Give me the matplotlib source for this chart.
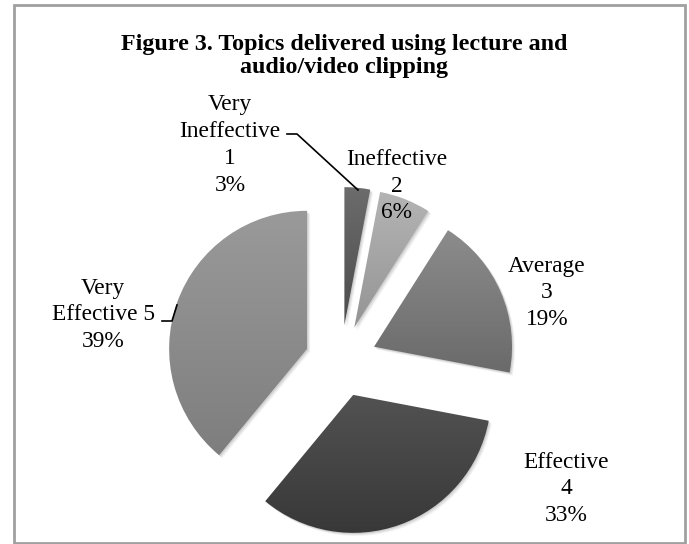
import numpy as np
import matplotlib
matplotlib.use("Agg")
import matplotlib.pyplot as plt
from matplotlib.patches import Rectangle, Wedge

plt.rcParams["font.family"] = ["Liberation Serif", "DejaVu Serif"]

W, H = 689, 544

# data
categories = ["Very Ineffective", "Ineffective", "Average", "Effective", "Very Effective"]
codes = [1, 2, 3, 4, 5]
percents = [3, 6, 19, 33, 39]
label_texts = ["Very\nIneffective\n1\n3%", "Ineffective\n2\n6%", "Average\n3\n19%",
               "Effective\n4\n33%", "Very\nEffective 5\n39%"]

# gradient colours per slice (top, bottom)
grad = [("#6c6c6c", "#4c4c4c"), ("#b4b4b4", "#949494"), ("#8c8c8c", "#6a6a6a"),
        ("#525252", "#383838"), ("#9a9a9a", "#7e7e7e")]

# label centres in pixel coords (x, y from top)
label_pos = [(230, 145), (397, 186), (547, 293), (566, 489), (103, 315)]

fig = plt.figure(figsize=(W / 100, H / 100), dpi=100)
ax = fig.add_axes([0, 0, 1, 1])

cx, cy, r = 341, H - 361, 138
wedges, _ = ax.pie(percents, startangle=90, counterclock=False, radius=r,
                   center=(cx, cy), explode=[36] * 5, frame=True,
                   wedgeprops=dict(facecolor="none", edgecolor="none"))
ax.set_xlim(0, W)
ax.set_ylim(0, H)
ax.axis("off")

for w, (c_top, c_bot) in zip(wedges, grad):
    # soft shadow
    for k, a in [(3, 0.10), (2, 0.15), (1, 0.2)]:
        sh = Wedge((w.center[0] + k, w.center[1] - k), w.r, w.theta1, w.theta2,
                   facecolor="#808080", edgecolor="none", alpha=a, zorder=1)
        ax.add_patch(sh)
    bb = w.get_path().get_extents(w.get_transform() - ax.transData)
    t = np.linspace(0, 1, 256)[:, None]
    top = np.array(matplotlib.colors.to_rgb(c_top))
    bot = np.array(matplotlib.colors.to_rgb(c_bot))
    img = (top * (1 - t[..., None]) + bot * t[..., None]).repeat(2, axis=1)
    im = ax.imshow(img, extent=(bb.x0, bb.x1, bb.y0, bb.y1), origin="upper",
                   aspect="auto", interpolation="bilinear", zorder=2)
    im.set_clip_path(w)

ax.set_xlim(0, W)
ax.set_ylim(0, H)

for txt, (x, y) in zip(label_texts, label_pos):
    ax.text(x, H - y, txt, ha="center", va="center", multialignment="center",
            fontsize=16.8, linespacing=1.36, color="black", zorder=3)

# leader lines
ax.plot([287, 297, 358], [H - 134, H - 134, H - 190], color="black", lw=1.2, zorder=3)
ax.plot([162, 172, 177], [H - 321, H - 321, H - 305], color="black", lw=1.2, zorder=3)

fig.text(0.5, 1 - 56 / H, "Figure 3. Topics delivered using lecture and\naudio/video clipping",
         ha="center", va="center", fontsize=17.3, fontweight="bold", linespacing=1.12)

fig.patches.append(Rectangle((14 / W, 1 - 543 / H), 671 / W, 538 / H, transform=fig.transFigure,
                             fill=False, edgecolor="#a0a0a0", lw=2))

fig.savefig("out.png", dpi=100)
